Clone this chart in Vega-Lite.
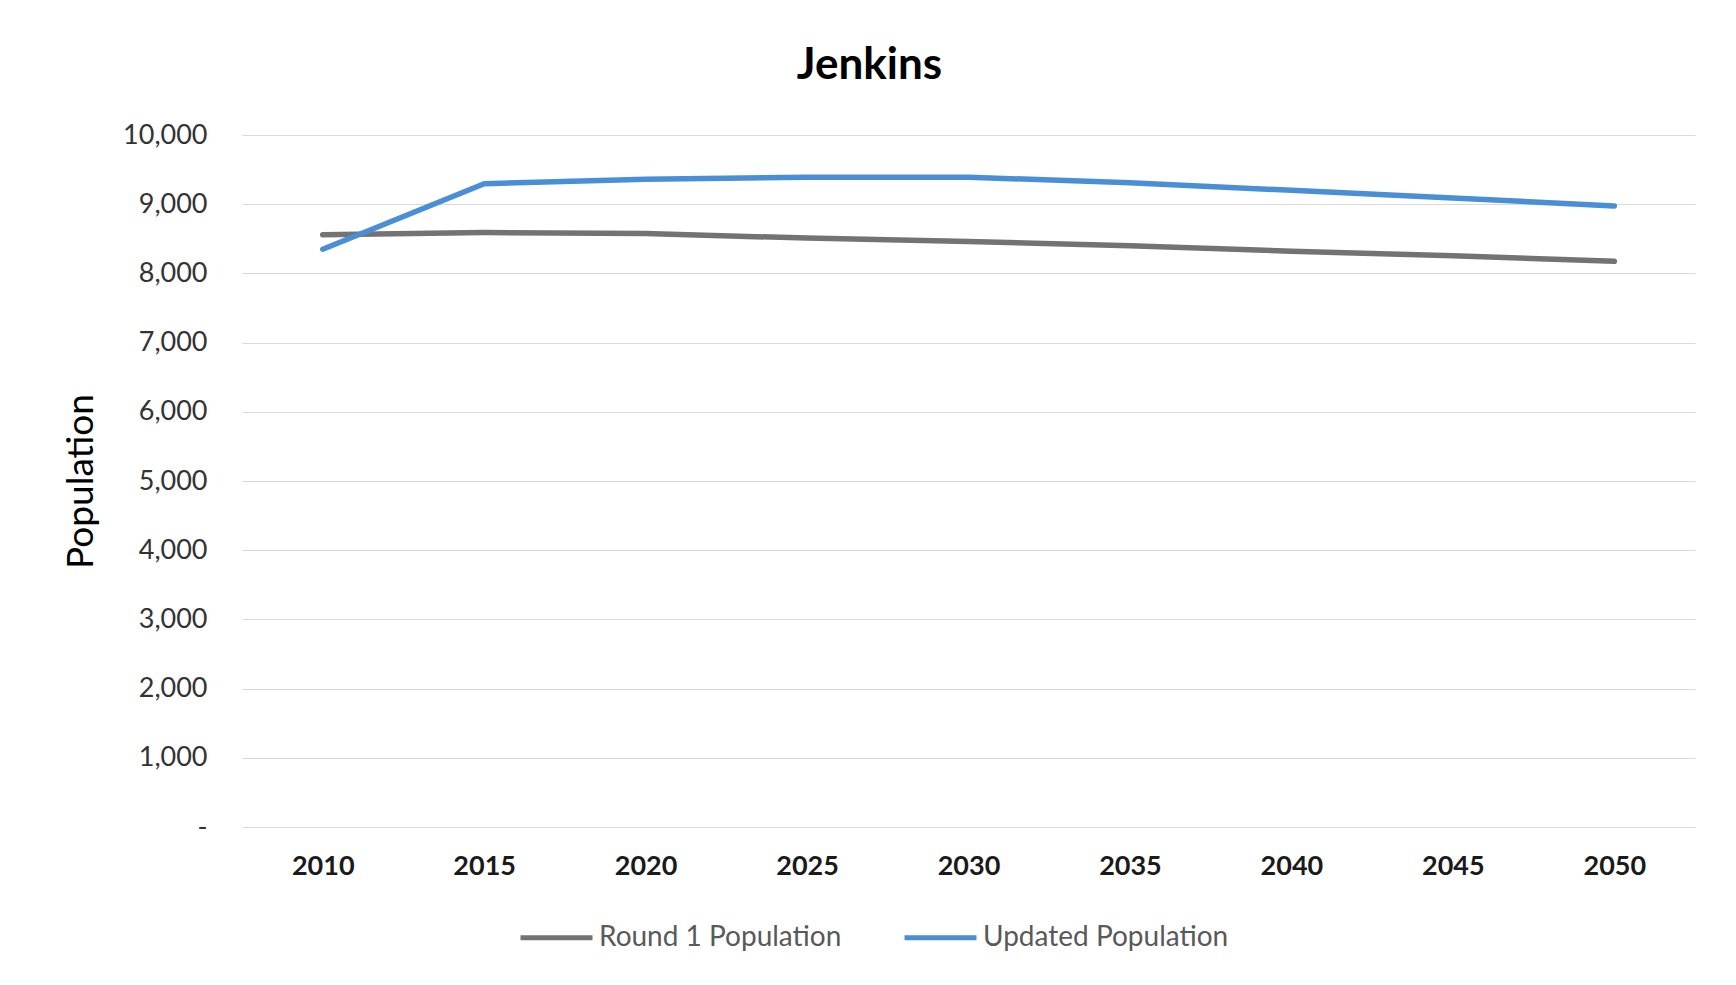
{
  "$schema": "https://vega.github.io/schema/vega-lite/v6.json",
  "width": 1453,
  "height": 692,
  "autosize": {"type": "none"},
  "padding": {"left": 242, "top": 135, "right": 41, "bottom": 158},
  "background": "white",
  "config": {
    "font": "Lato",
    "view": {"stroke": null}
  },
  "title": {
    "text": "Jenkins",
    "font": "Lato",
    "fontSize": 44,
    "fontWeight": "bold",
    "color": "#000000",
    "anchor": "middle",
    "dx": -99,
    "offset": 33
  },
  "data": {
    "values": [
      {"year": "2010", "series": "Round 1 Population", "population": 8560},
      {"year": "2015", "series": "Round 1 Population", "population": 8590},
      {"year": "2020", "series": "Round 1 Population", "population": 8575},
      {"year": "2025", "series": "Round 1 Population", "population": 8510},
      {"year": "2030", "series": "Round 1 Population", "population": 8460},
      {"year": "2035", "series": "Round 1 Population", "population": 8400},
      {"year": "2040", "series": "Round 1 Population", "population": 8320},
      {"year": "2045", "series": "Round 1 Population", "population": 8255},
      {"year": "2050", "series": "Round 1 Population", "population": 8175},
      {"year": "2010", "series": "Updated Population", "population": 8350},
      {"year": "2015", "series": "Updated Population", "population": 9295},
      {"year": "2020", "series": "Updated Population", "population": 9360},
      {"year": "2025", "series": "Updated Population", "population": 9390},
      {"year": "2030", "series": "Updated Population", "population": 9390},
      {"year": "2035", "series": "Updated Population", "population": 9310},
      {"year": "2040", "series": "Updated Population", "population": 9200},
      {"year": "2045", "series": "Updated Population", "population": 9090},
      {"year": "2050", "series": "Updated Population", "population": 8975}
    ]
  },
  "mark": {"type": "line", "strokeWidth": 5.5, "strokeCap": "round", "strokeJoin": "round"},
  "encoding": {
    "x": {
      "field": "year",
      "type": "ordinal",
      "scale": {"type": "point", "padding": 0.5},
      "axis": {
        "title": null,
        "domain": false,
        "ticks": false,
        "grid": false,
        "labelAngle": 0,
        "labelFont": "Lato",
        "labelFontSize": 27,
        "labelFontWeight": "bold",
        "labelColor": "#1a1a1a",
        "labelPadding": 26
      }
    },
    "y": {
      "field": "population",
      "type": "quantitative",
      "scale": {"domain": [0, 10000], "nice": false},
      "axis": {
        "title": "Population",
        "titleFont": "Lato",
        "titleFontSize": 37,
        "titleFontWeight": "normal",
        "titleColor": "#000000",
        "titlePadding": 22,
        "values": [0, 1000, 2000, 3000, 4000, 5000, 6000, 7000, 8000, 9000, 10000],
        "labelExpr": "datum.value == 0 ? '-\u00a0\u00a0' : format(datum.value, ',')",
        "labelFont": "Lato",
        "labelFontSize": 27,
        "labelColor": "#333333",
        "labelPadding": 35,
        "domain": false,
        "ticks": false,
        "grid": true,
        "gridColor": "#d9d9d9",
        "gridWidth": 1.2
      }
    },
    "color": {
      "field": "series",
      "type": "nominal",
      "scale": {
        "domain": ["Round 1 Population", "Updated Population"],
        "range": ["#737373", "#4a8fd6"]
      },
      "legend": {
        "title": null,
        "orient": "none",
        "direction": "horizontal",
        "legendX": 276,
        "legendY": 764,
        "symbolType": "stroke",
        "symbolSize": 5184,
        "symbolStrokeWidth": 5,
        "labelFont": "Lato",
        "labelFontSize": 28,
        "labelLimit": 500,
        "labelColor": "#595959",
        "labelOffset": 4,
        "columnPadding": 52
      }
    }
  }
}
